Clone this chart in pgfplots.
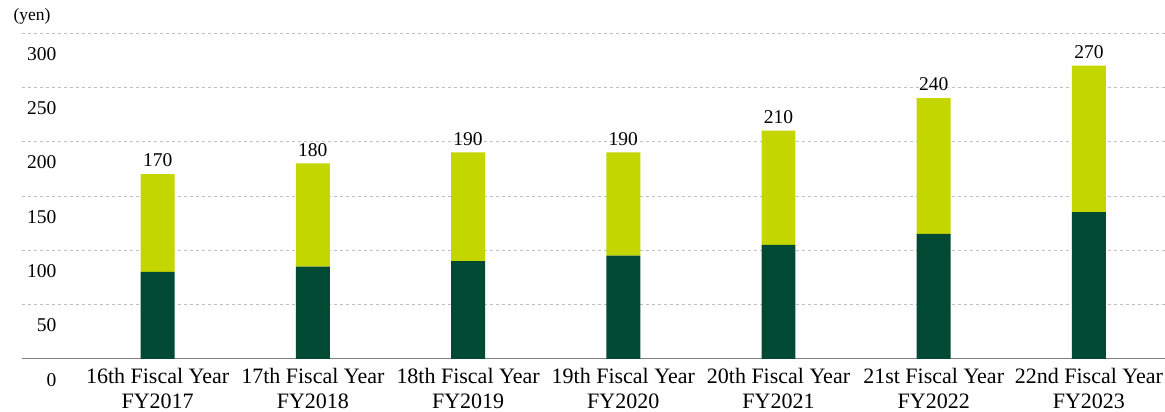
\documentclass[border=0pt]{standalone}
\usepackage{fontspec}
\setmainfont{Liberation Serif}
\usepackage{pgfplots}
\pgfplotsset{compat=1.18}
\definecolor{dkgreen}{HTML}{004A33}
\definecolor{lime}{HTML}{C4D600}
\pgfplotsset{frame/.style={
    scale only axis,
    width=1143pt, height=326pt,
    xmin=-0.874, xmax=6.487,
    ymin=0, ymax=300}}
\begin{document}
\begin{tikzpicture}
  \begin{axis}[
      frame,
      ybar stacked,
      bar width=34pt,
      ytick={0,50,100,150,200,250,300},
      xtick={0,1,2,3,4,5,6},
      xticklabels={{16th Fiscal Year\\FY2017},{17th Fiscal Year\\FY2018},{18th Fiscal Year\\FY2019},
        {19th Fiscal Year\\FY2020},{20th Fiscal Year\\FY2021},{21st Fiscal Year\\FY2022},{22nd Fiscal Year\\FY2023}},
      xticklabel style={font=\fontsize{22}{25}\selectfont, align=center, inner sep=0pt, yshift=-9pt},
      yticklabel style={font=\fontsize{19.5}{20}\selectfont, anchor=east, xshift=38pt, yshift=-21pt},
      /pgf/number format/assume math mode=true,
      major tick length=0pt,
      axis x line*=bottom,
      axis y line*=left,
      x axis line style={draw=black!50, line width=1pt, -},
      y axis line style={draw=none},
      ymajorgrids=true,
      grid style={dashed, black!25, line width=0.8pt},
      clip=false,
    ]
    % dark green lower part
    \addplot [fill=dkgreen, draw=none] coordinates {
      (0,80) (1,85) (2,90) (3,95) (4,105) (5,115) (6,135)
    };
    % light green upper part
    \addplot [fill=lime, draw=none] coordinates {
      (0,90) (1,95) (2,100) (3,95) (4,105) (5,125) (6,135)
    };
    \node[anchor=base west, font=\fontsize{17.5}{18}\selectfont]
      at ([xshift=-12pt, yshift=12pt]rel axis cs:0,1) {(yen)};
    % white margins as in the reference
    \path ([xshift=-22pt, yshift=33pt]rel axis cs:0,1) -- ([yshift=-53pt]rel axis cs:1,0);
  \end{axis}
  % totals above the bars
  \begin{axis}[frame, hide axis, clip=false]
    \addplot [draw=none, mark=none,
      point meta=explicit symbolic,
      nodes near coords,
      every node near coord/.append style={font=\fontsize{19.5}{20}\selectfont, text=black, anchor=south, yshift=3.5pt}]
      coordinates {
      (0,170) [170] (1,180) [180] (2,190) [190] (3,190) [190]
      (4,210) [210] (5,240) [240] (6,270) [270]
    };
  \end{axis}
\end{tikzpicture}
\end{document}
